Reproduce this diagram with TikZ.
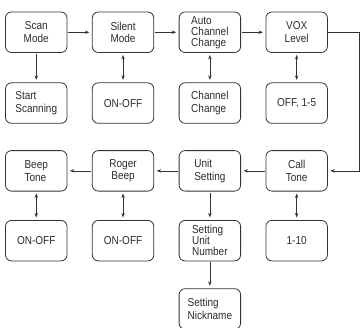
\documentclass[tikz,border=0pt]{standalone}
\usepackage{fontspec}
\setmainfont{Liberation Sans}[FakeStretch=0.87]
\usetikzlibrary{arrows.meta,positioning}
\definecolor{boxline}{HTML}{333333}
\definecolor{labeltext}{HTML}{2B2B2B}

\begin{document}
\begin{tikzpicture}[x=1pt,y=1pt,>={Stealth[length=4.5pt,width=3.4pt]},
  every node/.style={font=\fontsize{11.5}{12.5}\selectfont,text=labeltext},
  menubox/.style={draw=boxline,line width=0.8pt,rounded corners=6pt,
    minimum width=61.5pt,minimum height=40.5pt,inner sep=1.5pt,align=center},
  leftbox/.style={menubox,align=left},
  tightbox/.style={leftbox,font=\fontsize{11.5}{11}\selectfont},
  link/.style={boxline,line width=0.7pt,->,shorten >=2.5pt,shorten <=1pt},
  twoway/.style={link,<->,shorten <=2pt}]
  \useasboundingbox (0,0) rectangle (361,-327);
  % top row
  \node[menubox] (scan) at (36.25,-32.25) {Scan\\Mode};
  \node[menubox,right=24.5pt of scan] (silent) {Silent\\Mode};
  \node[tightbox,right=24.5pt of silent] (auto) {Auto\\Channel\\Change};
  \node[menubox,right=24.5pt of auto] (vox) {VOX\\Level};
  \node[leftbox,below=29.5pt of scan] (start) {Start\\Scanning};
  \node[menubox,below=29.5pt of silent] (silentval) {ON-OFF};
  \node[leftbox,below=29.5pt of auto] (channel) {Channel\\Change};
  \node[menubox,below=29.5pt of vox] (voxval) {OFF, 1-5};
  % second row
  \node[leftbox,below=26.5pt of start] (beep) {Beep\\Tone};
  \node[menubox,right=24.5pt of beep] (roger) {Roger\\Beep};
  \node[leftbox,right=24.5pt of roger] (unit) {Unit\\Setting};
  \node[menubox,right=24.5pt of unit] (call) {Call\\Tone};
  \node[menubox,below=28.5pt of beep] (beepval) {ON-OFF};
  \node[menubox,below=28.5pt of roger] (rogerval) {ON-OFF};
  \node[tightbox,below=28.5pt of unit] (unitnum) {Setting\\Unit\\Number};
  \node[menubox,below=28.5pt of call] (callval) {1-10};
  \node[leftbox,below=27pt of unitnum] (nick) {Setting\\Nickname};
  % connectors
  \draw[link] (scan) -- (silent);
  \draw[link] (silent) -- (auto);
  \draw[link] (auto) -- (vox);
  \draw[link] (scan) -- (start);
  \draw[twoway] (silent) -- (silentval);
  \draw[twoway] (auto) -- (channel);
  \draw[twoway] (vox) -- (voxval);
  \draw[link,shorten <=0pt] (vox.east) -- ++(32,0) |- (call.east);
  \draw[link] (call) -- (unit);
  \draw[link] (unit) -- (roger);
  \draw[link] (roger) -- (beep);
  \draw[twoway] (call) -- (callval);
  \draw[twoway] (roger) -- (rogerval);
  \draw[twoway] (beep) -- (beepval);
  \draw[link] (unit) -- (unitnum);
  \draw[link] (unitnum) -- (nick);
\end{tikzpicture}
\end{document}
